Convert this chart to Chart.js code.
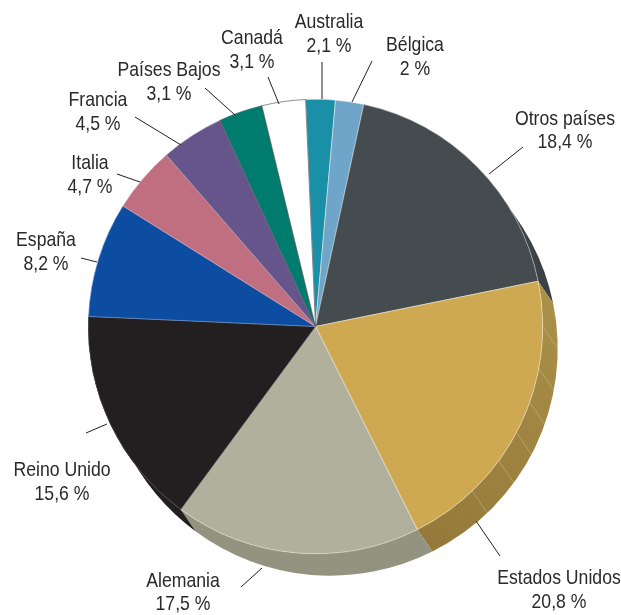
<!DOCTYPE html>
<html><head><meta charset="utf-8">
<script src="https://cdn.jsdelivr.net/npm/chart.js@4"></script>
<style>html,body{margin:0;padding:0;background:#fff}canvas{display:block}</style>
</head><body>
<canvas id="c" width="621" height="615"></canvas>
<script>
const categories = ['Australia','Bélgica','Otros países','Estados Unidos','Alemania','Reino Unido','España','Italia','Francia','Países Bajos','Canadá'];
const shares = [2.1,2,18.4,20.8,17.5,15.6,8.2,4.7,4.5,3.1,3.1];
const shareLabels = ['2,1 %','2 %','18,4 %','20,8 %','17,5 %','15,6 %','8,2 %','4,7 %','4,5 %','3,1 %','3,1 %'];
const topColors = ['#1a90a8','#6fa5c8','#454c50','#cfa852','#b1b09d','#231f20','#0c4da2','#bf6f80','#66558a','#007c6f','#ffffff'];
const edgeColors = ['#dfe6e6','#dfe6e6','#c9cccc','#efe6cf','#e6e5da','#555152','#7f9fd0','#d9a9b3','#a79cbb','#47585a','#3d4548'];
const wallColors = [null,null,'#3a4246','gold','#94937f','#231f20',null,null,null,null,null];
const wallFacetAngles = [90,100.6,109.5,117.8,126.2,136.4];
const labelPlaces = [[329,22,46],[415,45,69],[565,119,142],[559,578,602],[183,581,604],[62,470,494],[46,240,264],[90,163,187],[98,100,124],[169,70,94],[252,38,62]];
const leaderLines = [[322,62,322,99],[372,61,352,102],[523,147,489,174],[476,521,500,556],[241,587,262,568],[86,433,107,424],[81,258,97,262],[117,174,140,182],[135,117,181,145],[205,88,235,115],[268,77,279,104]];
const depth = [15,22];
const textSqueeze = 0.84;

const wallPlugin = {
  id:'wall',
  beforeDatasetsDraw(chart){
    const ctx = chart.ctx, arcs = chart.getDatasetMeta(0).data;
    const gold = ctx.createLinearGradient(560,300,440,550);
    gold.addColorStop(0,'#ab9048'); gold.addColorStop(1,'#94793a');
    arcs.forEach((arc,i)=>{
      if(!wallColors[i]) return;
      const p = arc.getProps(['x','y','startAngle','endAngle','outerRadius'],true);
      ctx.fillStyle = wallColors[i]==='gold' ? gold : wallColors[i];
      ctx.beginPath();
      ctx.arc(p.x+depth[0],p.y+depth[1],p.outerRadius,p.startAngle,p.endAngle);
      ctx.arc(p.x,p.y,p.outerRadius,p.endAngle,p.startAngle,true);
      ctx.closePath(); ctx.fill();
    });
    const a = arcs[0].getProps(['x','y','outerRadius'],true);
    ctx.strokeStyle='rgba(225,215,185,.5)'; ctx.lineWidth=.7;
    wallFacetAngles.forEach(d=>{
      const r=d*Math.PI/180, x=a.x+a.outerRadius*Math.sin(r), y=a.y-a.outerRadius*Math.cos(r);
      ctx.beginPath(); ctx.moveTo(x,y); ctx.lineTo(x+depth[0],y+depth[1]); ctx.stroke();
    });
  }
};
const labelPlugin = {
  id:'labels',
  afterDraw(chart){
    const ctx = chart.ctx;
    ctx.save();
    ctx.strokeStyle='#231f20'; ctx.lineWidth=1;
    leaderLines.forEach(l=>{ctx.beginPath();ctx.moveTo(l[0],l[1]);ctx.lineTo(l[2],l[3]);ctx.stroke();});
    ctx.fillStyle='#2b2829'; ctx.textAlign='center'; ctx.textBaseline='middle';
    ctx.font='21px "Liberation Sans",sans-serif';
    const put=(s,x,y)=>{ctx.save();ctx.translate(x,y);ctx.scale(textSqueeze,1);ctx.fillText(s,0,0);ctx.restore();};
    categories.forEach((c,i)=>{
      const q=labelPlaces[i];
      put(c,q[0],q[1]); put(shareLabels[i],q[0],q[2]);
    });
    ctx.restore();
  }
};
new Chart(document.getElementById('c'),{
  type:'pie',
  data:{labels:categories,datasets:[{data:shares,backgroundColor:topColors,borderColor:edgeColors,borderWidth:.6}]},
  options:{
    responsive:false,animation:false,rotation:-2.5,
    layout:{padding:{left:88,right:78,top:99,bottom:61}},
    plugins:{legend:{display:false},tooltip:{enabled:false}}
  },
  plugins:[wallPlugin,labelPlugin]
});
</script>
</body></html>
